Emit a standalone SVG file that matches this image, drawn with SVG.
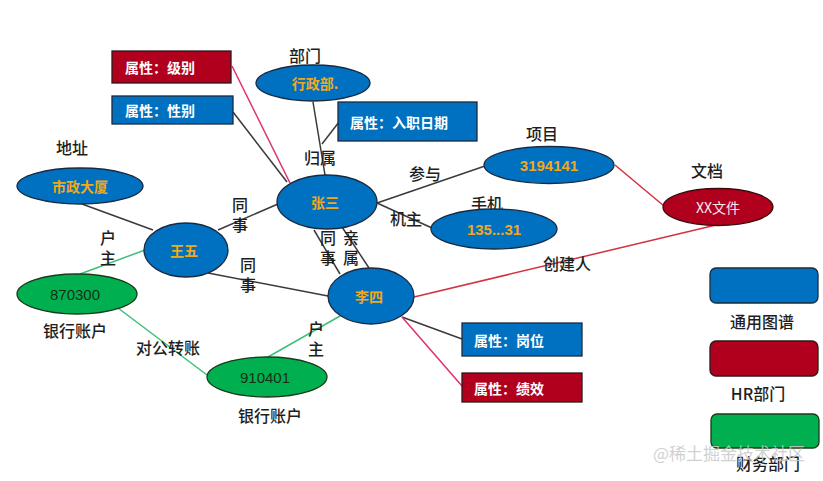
<svg xmlns="http://www.w3.org/2000/svg" width="823" height="481" viewBox="0 0 823 481">
<style>
text{font-family:"Noto Sans CJK SC","Liberation Sans",sans-serif;dominant-baseline:central;}
.lbl{font-size:16px;font-weight:500;fill:#1e1e1e;text-anchor:middle;}
.v{writing-mode:vertical-rl;letter-spacing:4px;}
.nb{fill:#0070C0;stroke:#1a2a40;stroke-width:1.3;}
.nr{fill:#B0001E;stroke:#3a0a0a;stroke-width:1.3;}
.ng{fill:#00B050;stroke:#1a3a1a;stroke-width:1.3;}
.nt{font-size:14px;font-weight:bold;fill:#F0A81C;text-anchor:middle;}
.gt{font-size:15px;fill:#143014;text-anchor:middle;font-family:"Liberation Sans",sans-serif;}
.rb{fill:#0070C0;stroke:#1a2a40;stroke-width:1.3;}
.rr{fill:#B0001E;stroke:#2a1a1a;stroke-width:1.3;}
.rt{font-size:14px;font-weight:bold;fill:#fff;}
.e{fill:none;stroke:#3a3a3a;stroke-width:1.5;}
.ep{fill:none;stroke:#E0306A;stroke-width:1.5;}
.er{fill:none;stroke:#D43040;stroke-width:1.5;}
.eg{fill:none;stroke:#3CC07A;stroke-width:1.5;}
</style>
<rect width="823" height="481" fill="#fff"/>
<g id="connectors">
<line class="ep" x1="232" y1="66" x2="290" y2="183"/>
<line class="e" x1="233" y1="112" x2="287" y2="182"/>
<line class="e" x1="313" y1="102" x2="325" y2="175"/>
<line class="e" x1="339" y1="122" x2="322" y2="144"/>
<line class="e" x1="82" y1="204" x2="153" y2="230"/>
<line class="e" x1="218" y1="230" x2="278" y2="204"/>
<line class="e" x1="377" y1="203" x2="485" y2="166"/>
<line class="e" x1="377" y1="203" x2="432" y2="228"/>
<line class="e" x1="314" y1="230" x2="340" y2="274"/>
<line class="e" x1="342" y1="227" x2="369" y2="268"/>
<line class="e" x1="208" y1="273" x2="328" y2="296"/>
<line class="er" x1="615" y1="165" x2="664" y2="206"/>
<line class="er" x1="414" y1="297" x2="716" y2="225"/>
<line class="e" x1="402" y1="317" x2="462" y2="339"/>
<line class="ep" x1="402" y1="317" x2="462" y2="386"/>
<line class="eg" x1="145" y1="250" x2="80" y2="274"/>
<line class="eg" x1="118" y1="308" x2="207" y2="375"/>
<line class="eg" x1="268" y1="357" x2="340" y2="316"/>
</g>
<g id="edge-labels">
<text class="lbl" x="320" y="157">归属</text>
<text class="lbl" x="425" y="173">参与</text>
<text class="lbl" x="406" y="218">机主</text>
<text class="lbl v" x="240" y="217">同事</text>
<text class="lbl v" x="108" y="250">户主</text>
<text class="lbl v" x="248" y="277">同事</text>
<text class="lbl v" x="328" y="250">同事</text>
<text class="lbl v" x="351" y="250">亲属</text>
<text class="lbl" x="567" y="263">创建人</text>
<text class="lbl v" x="316" y="341">户主</text>
<text class="lbl" x="168" y="347">对公转账</text>
</g>
<g id="attr-level"><rect class="rr" x="112" y="51" width="119" height="32"/><text class="rt" x="125" y="67">属性：级别</text></g>
<g id="attr-gender"><rect class="rb" x="112" y="96" width="121" height="28"/><text class="rt" x="125" y="110">属性：性别</text></g>
<g id="attr-date"><rect class="rb" x="338" y="102" width="139" height="39"/><text class="rt" x="350" y="122">属性：入职日期</text></g>
<g id="attr-post"><rect class="rb" x="462" y="323" width="120" height="33"/><text class="rt" x="474" y="340">属性：岗位</text></g>
<g id="attr-perf"><rect class="rr" x="462" y="373" width="120" height="29"/><text class="rt" x="474" y="388">属性：绩效</text></g>
<g id="dept"><text class="lbl" x="305" y="55">部门</text><ellipse class="nb" cx="313" cy="83" rx="57" ry="18"/><text class="nt" x="315" y="83">行政部.</text></g>
<g id="zhangsan"><ellipse class="nb" cx="327" cy="202" rx="50" ry="27"/><text class="nt" x="325" y="202">张三</text></g>
<g id="address"><text class="lbl" x="72" y="147">地址</text><ellipse class="nb" cx="80" cy="186" rx="63" ry="18"/><text class="nt" x="80" y="186">市政大厦</text></g>
<g id="wangwu"><ellipse class="nb" cx="186" cy="250" rx="42" ry="27"/><text class="nt" x="184" y="250">王五</text></g>
<g id="lisi"><ellipse class="nb" cx="371" cy="296" rx="43" ry="28"/><text class="nt" x="369" y="296">李四</text></g>
<g id="project"><text class="lbl" x="542" y="133">项目</text><ellipse class="nb" cx="549" cy="165" rx="65" ry="18.5"/><text class="nt" x="549" y="165" style="font-family:'Liberation Sans',sans-serif;font-size:15px">3194141</text></g>
<g id="phone"><text class="lbl" x="487" y="203">手机</text><ellipse class="nb" cx="494" cy="229" rx="63" ry="20"/><text class="nt" x="494" y="229" style="font-family:'Liberation Sans',sans-serif;font-size:15px">135...31</text></g>
<g id="doc"><text class="lbl" x="707" y="170">文档</text><ellipse class="nr" cx="718" cy="207" rx="55" ry="18.5"/><text x="718" y="207" style="font-size:14px;fill:#fde8ec;text-anchor:middle">XX文件</text></g>
<g id="acct1"><ellipse class="ng" cx="77" cy="294" rx="60" ry="20"/><text class="gt" x="75" y="294">870300</text><text class="lbl" x="75" y="330">银行账户</text></g>
<g id="acct2"><ellipse class="ng" cx="267" cy="377" rx="60" ry="20"/><text class="gt" x="265" y="377">910401</text><text class="lbl" x="270" y="415">银行账户</text></g>
<g id="legend">
<rect class="rb" x="710" y="268" width="108" height="35" rx="6"/><text class="lbl" x="762" y="321">通用图谱</text>
<rect class="rr" x="710" y="341" width="108" height="35" rx="6"/><text class="lbl" x="758" y="393">HR部门</text>
<rect class="ng" x="711" y="414" width="108" height="34" rx="6"/><text class="lbl" x="768" y="463">财务部门</text>
</g>
<text x="653" y="452" style="font-size:17px;fill:#c8c8c8;fill-opacity:0.85">@稀土掘金技术社区</text>
</svg>
